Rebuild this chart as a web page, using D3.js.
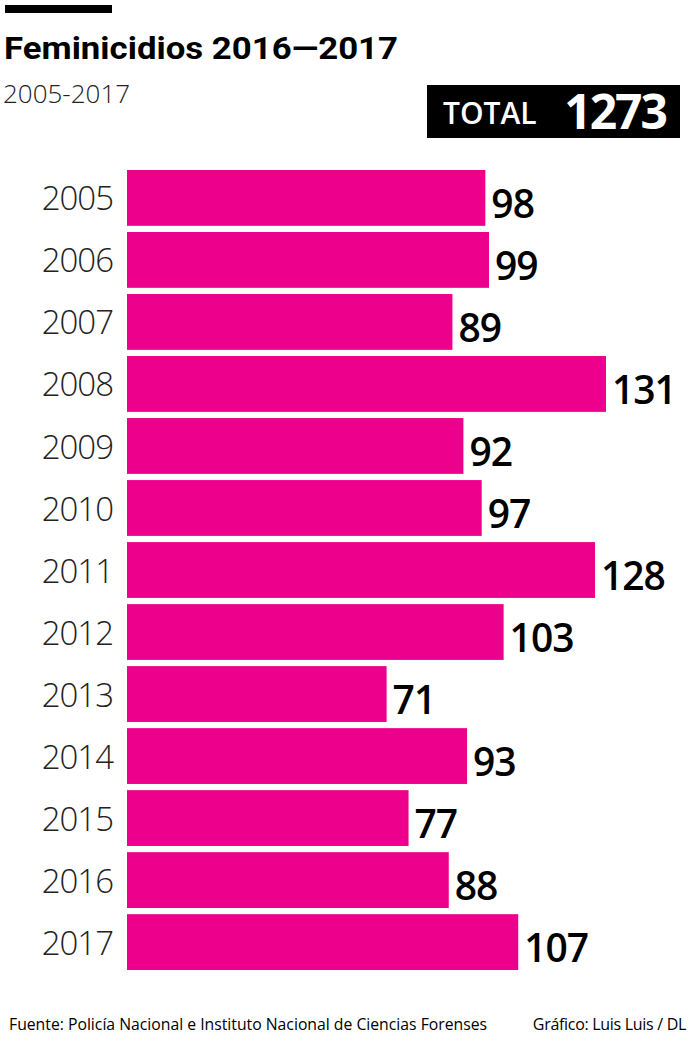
<!DOCTYPE html>
<html>
<head>
<meta charset="utf-8">
<script src="https://cdn.jsdelivr.net/npm/d3@7"></script>
<style>
  body { margin: 0; background: #fff; }
  svg { display: block; font-family: "Open Sans", "Noto Sans", sans-serif; }
</style>
</head>
<body>
<div id="chart"></div>
<script>
// Feminicidios por año 2005-2017
const years = ['2005', '2006', '2007', '2008', '2009', '2010', '2011', '2012', '2013', '2014', '2015', '2016', '2017'];
const cases = [98, 99, 89, 131, 92, 97, 128, 103, 71, 93, 77, 88, 107];
const total = 1273;

const width = 693;
const height = 1050;

const svg = d3.select('#chart').append('svg')
  .attr('width', width)
  .attr('height', height);

// Header
svg.append('rect')
  .attr('x', 5).attr('y', 5).attr('width', 107).attr('height', 8)
  .style('fill', '#000');

svg.append('text')
  .attr('x', 4).attr('y', 59)
  .attr('textLength', 394)
  .attr('lengthAdjust', 'spacingAndGlyphs')
  .style('font-family', 'Roboto, sans-serif')
  .style('font-weight', 700)
  .style('font-size', '32px')
  .text('Feminicidios 2016—2017');

svg.append('text')
  .attr('x', 3).attr('y', 103)
  .style('font-weight', 300)
  .style('font-size', '26px')
  .style('fill', '#222')
  .text('2005-2017');

// Total box
svg.append('rect')
  .attr('x', 427).attr('y', 85).attr('width', 253).attr('height', 53)
  .style('fill', '#000');

svg.append('text')
  .attr('x', 443).attr('y', 124)
  .style('fill', '#fff')
  .style('font-size', '30px')
  .style('font-weight', 600)
  .text('TOTAL');

svg.append('text')
  .attr('x', 666).attr('y', 129)
  .attr('text-anchor', 'end')
  .style('fill', '#fff')
  .style('font-size', '48px')
  .style('font-weight', 700)
  .style('letter-spacing', '-2px')
  .text(total);

// Scales
const x = d3.scaleLinear()
  .domain([0, 131])
  .range([127, 606]);

const y = d3.scaleBand()
  .domain(years)
  .range([170, 970])
  .paddingInner(0.1)
  .paddingOuter(0);

const bars = svg.selectAll('.bar')
  .data(years.map((yr, i) => ({ year: yr, value: cases[i] })))
  .enter().append('g')
  .attr('class', 'bar');

bars.append('rect')
  .attr('x', x(0))
  .attr('y', d => y(d.year))
  .attr('width', d => x(d.value) - x(0))
  .attr('height', y.bandwidth())
  .style('fill', '#EC008C');

bars.append('text')
  .attr('x', d => x(d.value) + 6)
  .attr('y', d => y(d.year) + y.bandwidth() / 2)
  .attr('dy', '0.52em')
  .style('font-size', '39px')
  .style('font-weight', 600)
  .style('letter-spacing', '-1px')
  .text(d => d.value);

bars.append('text')
  .attr('x', 113)
  .attr('y', d => y(d.year) + y.bandwidth() / 2)
  .attr('dy', '0.38em')
  .attr('text-anchor', 'end')
  .style('font-size', '33px')
  .style('font-weight', 300)
  .style('letter-spacing', '-1px')
  .style('fill', '#222')
  .text(d => d.year);

// Footer
svg.append('text')
  .attr('x', 9).attr('y', 1030)
  .attr('textLength', 478)
  .attr('lengthAdjust', 'spacingAndGlyphs')
  .style('font-size', '16px')
  .text('Fuente: Policía Nacional e Instituto Nacional de Ciencias Forenses');

svg.append('text')
  .attr('x', 686).attr('y', 1030)
  .attr('text-anchor', 'end')
  .style('font-size', '16px')
  .style('letter-spacing', '-0.3px')
  .text('Gráfico: Luis Luis / DL');
</script>
</body>
</html>
